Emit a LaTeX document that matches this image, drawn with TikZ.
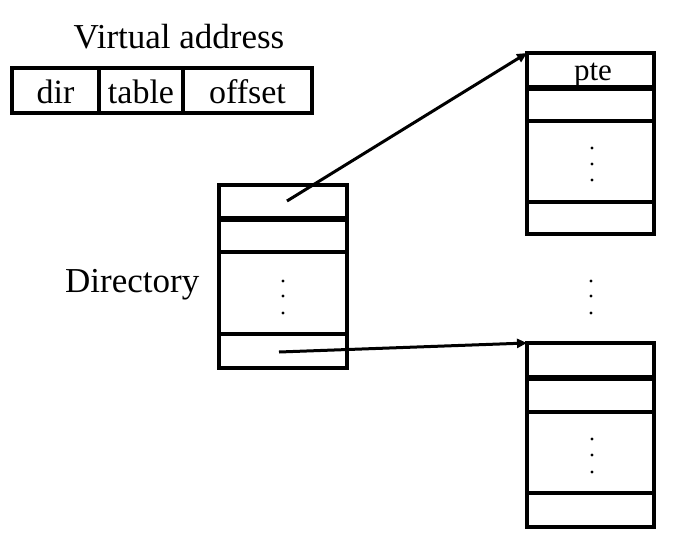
\documentclass[tikz,border=0pt]{standalone}
\usepackage{fontspec}
\setmainfont{Liberation Serif}
\usetikzlibrary{arrows.meta,calc}
\tikzset{
 box/.style={draw, line width=3.4pt, inner sep=0pt, outer sep=0pt, anchor=north west},
 field/.style={draw, line width=3.4pt, inner sep=0pt, outer sep=0pt, anchor=north west,
   minimum height=45pt, text height=25pt, text depth=0pt, font=\fontsize{34}{38}\selectfont},
 div/.style={line width=3.4pt},
 thickdiv/.style={line width=5.5pt},
 ptr/.style={line width=3pt, -{Triangle[length=10pt,width=9pt]}},
 lbl/.style={font=\fontsize{35}{40}\selectfont, anchor=base, inner sep=0pt},
 small/.style={font=\fontsize{31}{34}\selectfont, anchor=base, inner sep=0pt},
 dot/.style={fill=black},
}
\begin{document}
\begin{tikzpicture}[x=1pt,y=-1pt]
\useasboundingbox[fill=white] (0,0) rectangle (693,554);
% virtual address
\node[lbl] (va) at (179,48) {Virtual address};
\node[field, minimum width=87pt] (fdir) at (12,68) {dir};
\node[field, minimum width=84pt] (ftab) at (99,68) {table};
\node[field, minimum width=129pt] (foff) at (183,68) {offset};
% directory
\node[lbl, anchor=base west] (dlbl) at (65,292) {Directory};
\node[box, minimum width=128pt, minimum height=183pt] (dirt) at (219,185) {};
\draw[thickdiv] ($(dirt.north west)+(0,34)$) -- ($(dirt.north east)+(0,34)$);
\draw[div] ($(dirt.north west)+(0,67)$) -- ($(dirt.north east)+(0,67)$);
\draw[div] ($(dirt.north west)+(0,149)$) -- ($(dirt.north east)+(0,149)$);
\foreach \y in {281,296,313} \fill[dot] (283,\y) circle (1.7);
% upper table
\node[box, minimum width=127pt, minimum height=181pt] (t1) at (527,53) {};
\draw[thickdiv] ($(t1.north west)+(0,35)$) -- ($(t1.north east)+(0,35)$);
\draw[div] ($(t1.north west)+(0,68)$) -- ($(t1.north east)+(0,68)$);
\draw[div] ($(t1.north west)+(0,149)$) -- ($(t1.north east)+(0,149)$);
\node[small] (pte) at (593,80) {pte};
\foreach \y in {148,164,180} \fill[dot] (592,\y) circle (1.7);
% middle dots
\foreach \y in {281,296,313} \fill[dot] (591,\y) circle (1.7);
% lower table
\node[box, minimum width=127pt, minimum height=184pt] (t2) at (527,343) {};
\draw[thickdiv] ($(t2.north west)+(0,35)$) -- ($(t2.north east)+(0,35)$);
\draw[div] ($(t2.north west)+(0,69)$) -- ($(t2.north east)+(0,69)$);
\draw[div] ($(t2.north west)+(0,150)$) -- ($(t2.north east)+(0,150)$);
\foreach \y in {439,455,472} \fill[dot] (592,\y) circle (1.7);
% pointers
\coordinate (s1) at (287,201);
\coordinate (s2) at (279,352);
\draw[ptr] (s1) -- (t1.north west);
\draw[ptr] (s2) -- (t2.north west);
\end{tikzpicture}
\end{document}
